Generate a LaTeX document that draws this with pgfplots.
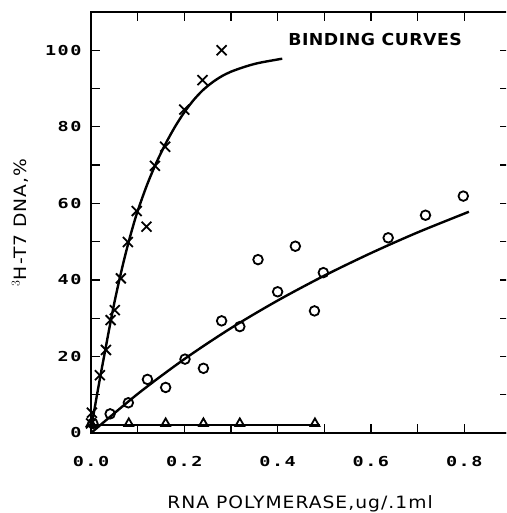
\documentclass[border=0pt]{standalone}
\usepackage{pgfplots}
\pgfplotsset{compat=1.18}
\usepackage{fontspec}
\newfontfamily\tickfont{DejaVu Sans Mono}[FakeStretch=1.35, LetterSpace=11]
\newfontfamily\labfont{DejaVu Sans}[FakeStretch=1.1, LetterSpace=6]
\newfontfamily\notefont{DejaVu Sans}[FakeStretch=1.05, LetterSpace=3]

\begin{document}
\begin{tikzpicture}
\useasboundingbox (0,0) rectangle (506pt,513pt);
\clip (0,0) rectangle (506pt,513pt);
\begin{axis}[
    at={(91pt,80pt)}, anchor=south west,
    scale only axis, width=418pt, height=421pt,
    xmin=0, xmax=0.896, ymin=0, ymax=110,
    xtick={0,0.2,0.4,0.6,0.8},
    minor xtick={0.1,0.3,0.5,0.7},
    ytick={0,20,40,60,80,100},
    minor ytick={10,30,50,70,90},
    tick align=inside,
    major tick length=9pt, minor tick length=9pt,
    every tick/.style={black, line width=1.2pt},
    axis line style={line width=1.2pt},
    tick label style={font=\tickfont\bfseries\fontsize{13.7}{14}\selectfont},
    x tick label style={/pgf/number format/fixed, /pgf/number format/fixed zerofill,
        /pgf/number format/precision=1, /pgf/number format/assume math mode=true, yshift=-20pt},
    y tick label style={/pgf/number format/assume math mode=true, xshift=-6pt},
    xlabel={RNA POLYMERASE,ug/.1ml},
    ylabel={$^{3}$H-T7 DNA,\%},
    label style={font=\labfont\fontsize{17}{18}\selectfont},
    xlabel style={at={([yshift=-70.5pt]axis description cs:0.5,0)}, anchor=center},
    ylabel style={at={([xshift=-71pt]axis description cs:0,0.5)}, anchor=center},
    clip=false,
]
% fitted curves
\addplot[black, line width=2.4pt, smooth, tension=0.5] coordinates {
    (0,1) (0.01,8) (0.02,14.8) (0.03,21.3) (0.04,27.8) (0.05,34)
    (0.06,39.6) (0.07,44.8) (0.08,49.6) (0.09,54) (0.10,58) (0.12,64.8)
    (0.14,70.6) (0.16,75.6) (0.18,80) (0.20,83.8) (0.22,87) (0.24,89.6)
    (0.26,91.6) (0.28,93.2) (0.30,94.4) (0.33,95.7) (0.36,96.7) (0.41,97.8)};
\addplot[black, line width=2.4pt, smooth, tension=0.5] coordinates {
    (0,0) (0.1,10.2) (0.2,19.3) (0.3,27.4) (0.4,34.6) (0.5,41.1)
    (0.6,47.0) (0.7,52.4) (0.81,57.8)};
\addplot[black, line width=2pt] coordinates {(0,2.1) (0.49,2.1)};
% crosses
\addplot[black, only marks, mark=x, mark size=7pt, mark options={line width=1.8pt}] coordinates {
    (0.280,100) (0.239,92.2) (0.200,84.5) (0.159,74.8) (0.137,69.8)
    (0.119,53.9) (0.098,58.0) (0.079,49.9) (0.064,40.4) (0.051,32.1)
    (0.042,29.5) (0.032,21.7) (0.019,15.1) (0.002,5.3) (0.0,2.5)};
% circles
\addplot[black, only marks, mark=o, mark size=4.8pt, mark options={line width=1.8pt}] coordinates {
    (0.004,2.5) (0.041,5.0) (0.080,7.9) (0.121,14.0) (0.160,11.9)
    (0.2015,19.3) (0.241,16.9) (0.280,29.3) (0.319,27.8) (0.358,45.3)
    (0.400,36.9) (0.438,48.8) (0.479,31.9) (0.498,41.9) (0.637,51.0)
    (0.717,56.9) (0.798,61.9)};
% triangles
\addplot[black, only marks, mark=triangle, mark size=5pt, mark options={line width=1.8pt}] coordinates {
    (0.0,2.5) (0.081,2.5) (0.160,2.5) (0.241,2.5) (0.319,2.5) (0.480,2.5)};
\node[font=\notefont\bfseries\fontsize{16.5}{18}\selectfont] at (axis cs:0.609,102.7) {BINDING CURVES};
\end{axis}
\end{tikzpicture}
\end{document}
